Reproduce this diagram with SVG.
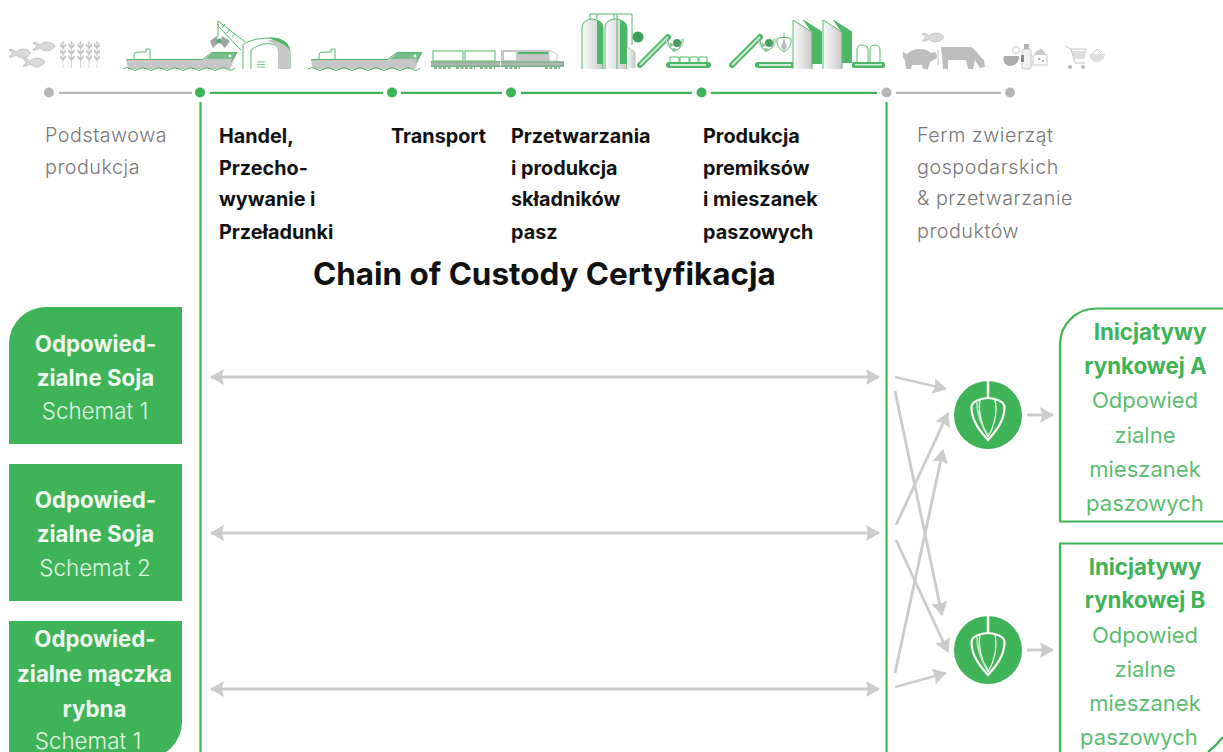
<svg xmlns="http://www.w3.org/2000/svg" width="1223" height="752" viewBox="0 0 1223 752">
<style>
text{font-family:"Inter","Open Sans","Liberation Sans",sans-serif}
.h{font-size:19.800px;font-weight:700;fill:#111}
.g{font-size:19.700px;font-weight:300;fill:#777;letter-spacing:.55px}
.t{font-size:31.400px;font-weight:700;fill:#111}
.lb{font-size:22.300px;font-weight:700;fill:#eef8ef;text-anchor:middle}
.lr{font-size:22.400px;font-weight:300;fill:#e2f4e5;text-anchor:middle}
.rb{font-size:22.300px;font-weight:700;fill:#3fb357;text-anchor:middle}
.rr{font-size:22px;font-weight:400;fill:#5cbd72;text-anchor:middle}
.ar{fill:none;stroke:#cbcbcb;stroke-width:2.800}
.ln{stroke-width:2.200;fill:none}
.gl{stroke:#b9b9b9}
.gn{stroke:#3fb357}
.dg{fill:#b5b5b5}
.dn{fill:#3fb357}
.ic{fill:none;stroke:#54b96c;stroke-width:1}
.icg{fill:none;stroke:#c4c4c4;stroke-width:1}
.fl{fill:#dedede}
.fn{fill:#4cb866}
.pale{fill:url(#paleGrad)}
.belt{fill:#4cb866}
.beltc{fill:#d6eadb}
</style>
<defs>
<linearGradient id="paleGrad" x1="0" x2="1" y1="0" y2="0"><stop offset="0" stop-color="#fafafa"/><stop offset="1" stop-color="#c9c9c9"/></linearGradient>
<marker id="ah" viewBox="0 0 14 18" refX="13" refY="9" markerUnits="userSpaceOnUse" markerWidth="14" markerHeight="18" orient="auto-start-reverse"><path d="M0 1L14 9L0 17L2 9Z" fill="#cbcbcb"/></marker>
<g id="whisk">
<path d="M0-34V-17" stroke="#fff" stroke-width="2.500" fill="none"/>
<path d="M0-17C-8-17-16.500-13-16.500-8C-16.500 6-8 16 0 25C8 16 16.500 6 16.500-8C16.500-13 8-17 0-17Z" fill="none" stroke="#fff" stroke-width="2.200"/>
<path d="M-8-15C-10-3-6 12 0 22M7-15C10-3 6 12 0 22" fill="none" stroke="#fff" stroke-width="1.200"/>
<path d="M-11-13C-11 2-5 13 0 20" fill="none" stroke="#bfe6c8" stroke-width="1.800"/>
</g>
<g id="ship">
<path d="M126 60H203L212 53H237L230 69H128Z" fill="#c6c6c6"/>
<path d="M203 59.500H126M203 59L212 52.500H237L231 62" class="ic"/>
<path d="M212 53H237L233 59H205Z" class="fn" opacity=".65"/>
<circle cx="230" cy="56" r="1.500" fill="#fff"/>
<path d="M134 59V55Q134 52 138 52H146V49H150V59" class="ic"/>
<path d="M123 69Q127 66 131 69T139 69T147 69T155 69T163 69T171 69T179 69T187 69T195 69T203 69T211 69T219 69T227 69T235 68" class="ic"/>
</g>
<g id="bowl">
<path d="M-8-8A8.500 9 0 1 0 8-8" class="icg"/>
<path d="M-7-7C-7 1-3 4 0 4C3 4 7 1 7-7" class="ic"/>
<circle cx="2" cy="-3" r="4" fill="#4a9d63"/><circle cx="-4" cy="-1" r="2" fill="#8cc79c"/><circle cx="-1" cy="4" r="2" fill="#8cc79c"/>
</g>
<g id="fish"><path d="M-11-3L-7 0L-11 4L-8 4L-4 2C0 6 7 6 11 0C7-5 0-5-4-1L-8-4Z" fill="#d9d9d9" stroke="#bbb" stroke-width=".8"/></g>
<g id="wheat"><path d="M0-14V13" stroke="#d5d5d5" fill="none"/><path d="M0-9L-3-12V-9L0-6L3-9V-12ZM0-3L-3-6V-3L0 0L3-3V-6ZM0 3L-3 0V3L0 6L3 3V0Z" fill="#c4c4c4"/><path d="M0-14L-1.500-11H1.500Z" fill="#c4c4c4"/></g>
</defs>
<rect width="1223" height="752" fill="#fff"/>

<g id="top-icons">
<use href="#fish" x="20" y="53"/><use href="#fish" x="44" y="46"/><use href="#fish" x="34" y="62"/>
<use href="#wheat" x="63" y="55"/><use href="#wheat" x="71.500" y="55"/><use href="#wheat" x="80.500" y="55"/><use href="#wheat" x="89" y="55"/><use href="#wheat" x="97" y="55"/>
<use href="#ship"/>
<path d="M218 21L245 42M218 26L241 50M218 21V26M222 28L225 24M227 33L230 29M232 37L235 33M218 24V37" class="ic"/>
<path d="M217 36L210 41L213 48L218 43ZM222 36L230 41L225 48L220 43Z" fill="#a3a3a3"/><circle cx="219" cy="41" r="2.500" fill="#4cb866"/>
<path d="M244 44C252 39 262 38 272 38C282 38 289 43 290 51V69" class="ic"/>
<path d="M243 69V44M251 69V50C258 44 268 43 272 44C278 45 279 49 279 54V69" class="ic"/>
<path d="M278 69V54C278 46 274 42 266 41C276 38 288 40 290 52V69Z" fill="#c6c6c6"/>
<path d="M268 38C280 37 288 42 290 50C286 45 278 41 268 38Z" class="fn"/>
<path d="M257 62H265M257 64.500H265M257 67H265" stroke="#7fca92" fill="none"/>
<use href="#ship" x="185"/>
<rect x="433" y="51" width="30" height="10" fill="#fff" class="ic"/><rect x="465" y="51" width="30" height="10" fill="#fff" class="ic"/>
<rect x="431" y="61" width="69" height="6" fill="#b5b5b5"/><rect x="501" y="61" width="63" height="6" fill="#b5b5b5"/>
<path d="M431 62H500M501 62H564M431 66H564" class="ic"/>
<rect x="501" y="50" width="48" height="11" fill="#c6c6c6"/><rect x="504" y="52" width="12" height="8" fill="#fff"/><path d="M518 52H548V54H518Z" class="fn"/>
<path d="M549 50L557 54V61H549Z" fill="#fff" class="icg"/>
<path d="M434 68H452M456 68H475M480 68H495M505 68H520M545 68H560" stroke="#7db98d" stroke-width="2.200" stroke-dasharray="3 1.500" fill="none"/>
<path d="M582 69V28Q582 20 592 19Q603 20 603 28V69Z" class="pale"/><path d="M597 20Q603 22 603 28V64H597Z" class="fn"/>
<path d="M605 69V28Q605 20 615 19Q627 20 627 28V69Z" class="pale"/><path d="M620 20Q627 22 627 28V64H620Z" class="fn"/>
<path d="M582 69V28Q582 20 592 19Q603 20 603 28V69M605 69V28Q605 20 615 19Q627 20 627 28V69M590 19V14H632V45M614 19V14M597 14V19M617 14V69" class="ic"/>
<path d="M627 47L635 52V68H627Z" class="pale"/><path d="M627 47L635 52V68" class="icg"/>
<circle cx="638" cy="37" r="5.500" fill="#3d9d5b"/>
<path d="M640 65L668 37" stroke="#4cb866" stroke-width="6" stroke-linecap="round" fill="none"/><path d="M640 65L668 37" stroke="#cfe8d6" stroke-width="2.200" fill="none"/>
<use href="#bowl" x="675" y="46"/>
<path d="M670 62V57H679V62M680 62V57H689V62M690 62V57H698V62M699 62V57H707V62" class="ic"/>
<rect x="666" y="62" width="45" height="6" rx="3" class="belt"/><rect x="670" y="64" width="36" height="2" class="beltc"/>
<path d="M732 65L760 37" stroke="#4cb866" stroke-width="6" stroke-linecap="round" fill="none"/><path d="M732 65L760 37" stroke="#cfe8d6" stroke-width="2.200" fill="none"/>
<use href="#bowl" x="767" y="46"/>
<path d="M784 33V38M777 39C776 46 780 49 784 52C788 49 792 46 791 39C788 37 780 37 777 39Z" class="ic"/><path d="M784 38L781 47L784 51L787 47Z" fill="#bbb"/>
<rect x="755" y="62" width="40" height="6" rx="3" class="belt"/><rect x="759" y="64" width="32" height="2" class="beltc"/>
<path d="M803 20L822 32V64H812V33Z" class="fn"/><path d="M803 20L822 32" class="ic"/>
<path d="M793 69V20L812 32V69Z" class="pale"/><path d="M793 69V20L812 32V69" class="ic"/>
<path d="M833 20L852 32V63H842V33Z" class="fn"/><path d="M833 20L852 32" class="ic"/>
<path d="M823 69V20L842 32V69Z" class="pale"/><path d="M823 69V20L842 32V69" class="ic"/>
<rect x="852" y="62" width="33" height="6" rx="2" class="belt"/><rect x="855" y="64" width="27" height="1.500" class="beltc"/>
<path d="M857 62V50Q857 45 862 45Q868 45 868 50V62M870 62V50Q870 45 875 45Q880 45 880 50V62" class="ic"/>
<use href="#fish" x="933" y="37"/>
<path d="M903 52L907 54C913 48 925 47 931 53L936 52L937 58L930 62L928 69H923L922 65H912L911 69H906L905 60Q902 57 903 52Z" fill="#bdbdbd"/>
<path d="M941 47H971C976 50 980 57 984 60L985 67L980 68L975 60L973 69H968L966 60H948L948 69H943L942 55Z" fill="#bdbdbd"/>
<path d="M938 50V65" class="icg"/>
<path d="M1004 56H1019Q1019 66 1009 66Q1002 64 1004 56Z" fill="#adadad"/><circle cx="1016" cy="50" r="3.500" class="icg"/>
<rect x="1022" y="49" width="9" height="20" rx="2" fill="#f1f1f1" stroke="#c4c4c4"/><rect x="1024" y="44" width="5" height="5" fill="#b5b5b5"/><rect x="1021" y="55" width="3" height="7" fill="#888"/>
<path d="M1033 56L1041 49L1047 56V65H1033Z" fill="#fff" stroke="#c4c4c4"/><path d="M1036 51L1041 49L1047 55H1035Z" fill="#c9c9c9"/><circle cx="1039" cy="59" r="1" fill="#999"/><circle cx="1043" cy="61" r="1" fill="#999"/>
<path d="M1065 46L1071 49L1075 63H1085M1071 49H1086L1084 58H1073" class="icg"/><path d="M1072 51H1086L1084 58H1074Z" class="fl"/>
<circle cx="1070" cy="67" r="2" fill="#bbb"/><circle cx="1083" cy="67" r="2" fill="#bbb"/>
<path d="M1089 54H1105C1104 60 1101 62 1097 62C1093 62 1090 60 1089 54Z" class="fl"/><path d="M1092 54L1097 49L1102 54" class="icg"/>
</g>

<g id="connectors">
<path class="ln gl" d="M59 92.800H192M896 92.800H1001"/>
<path class="ln gn" d="M210 92.800H383M401 92.800H502M521 92.800H692M711 92.800H877"/>
<path class="ar" marker-start="url(#ah)" marker-end="url(#ah)" d="M211 377H879"/>
<path class="ar" marker-start="url(#ah)" marker-end="url(#ah)" d="M211 533H879"/>
<path class="ar" marker-start="url(#ah)" marker-end="url(#ah)" d="M211 689H879"/>
<path class="ar" marker-end="url(#ah)" d="M895 377L946 389"/>
<path class="ar" marker-end="url(#ah)" d="M895 391L942 615"/>
<path class="ar" marker-end="url(#ah)" d="M896 525L948 413"/>
<path class="ar" marker-end="url(#ah)" d="M896 540L948 652"/>
<path class="ar" marker-end="url(#ah)" d="M895 673L943 450"/>
<path class="ar" marker-end="url(#ah)" d="M895 687L946 673"/>
<path class="ar" marker-end="url(#ah)" d="M1027 415H1053"/>
<path class="ar" marker-end="url(#ah)" d="M1027 650H1053"/>
</g>

<g id="timeline-nodes">
<circle cx="49" cy="92.500" r="5" class="dg"/>
<circle cx="200" cy="92.500" r="5" class="dn"/>
<circle cx="392" cy="92.500" r="5" class="dn"/>
<circle cx="511" cy="92.500" r="5" class="dn"/>
<circle cx="701.500" cy="92.500" r="5" class="dn"/>
<circle cx="886.500" cy="92.500" r="5" class="dg"/>
<circle cx="1010" cy="92.500" r="5" class="dg"/>
</g>

<g id="custody-frame">
<path class="ln gn" d="M200.500 102V752M886.500 102V752"/>
</g>

<g id="stage-primary"><text class="g" x="45" y="142">Podstawowa</text><text class="g" x="45" y="174">produkcja</text></g>
<g id="stage-trade"><text class="h" x="219" y="143">Handel,</text><text class="h" x="219" y="175">Przecho-</text><text class="h" x="219" y="206">wywanie i</text><text class="h" x="219" y="239">Przeładunki</text></g>
<g id="stage-transport"><text class="h" x="391" y="143">Transport</text></g>
<g id="stage-processing"><text class="h" x="511" y="143">Przetwarzania</text><text class="h" x="511" y="175">i produkcja</text><text class="h" x="511" y="206">składników</text><text class="h" x="511" y="239">pasz</text></g>
<g id="stage-premix"><text class="h" x="703" y="143">Produkcja</text><text class="h" x="703" y="175">premiksów</text><text class="h" x="703" y="206">i mieszanek</text><text class="h" x="703" y="239">paszowych</text></g>
<g id="stage-farm"><text class="g" x="917" y="142">Ferm zwierząt</text><text class="g" x="917" y="174">gospodarskich</text><text class="g" x="917" y="205">&amp; przetwarzanie</text><text class="g" x="917" y="238">produktów</text></g>
<g id="title"><text class="t" x="313" y="285">Chain of Custody Certyfikacja</text></g>

<g id="scheme-soja-1">
<path d="M9 444V344A37 37 0 0 1 46 307H182V444Z" class="dn"/>
<text class="lb" x="95.500" y="352">Odpowied-</text><text class="lb" x="95.500" y="386">zialne Soja</text><text class="lr" x="95" y="419">Schemat 1</text>
</g>
<g id="scheme-soja-2">
<rect x="9" y="464" width="173" height="137" class="dn"/>
<text class="lb" x="95.500" y="508">Odpowied-</text><text class="lb" x="95.500" y="542">zialne Soja</text><text class="lr" x="95" y="576">Schemat 2</text>
</g>
<g id="scheme-fishmeal">
<path d="M9 621H182V722A36 36 0 0 1 146 758H9Z" class="dn"/>
<text class="lb" x="95" y="647">Odpowied-</text><text class="lb" x="94.500" y="682">zialne mączka</text><text class="lb" x="94.500" y="717">rybna</text><text class="lr" x="88" y="749">Schemat 1</text>
</g>

<g id="mixer-a"><circle cx="988" cy="415" r="34" class="dn"/><use href="#whisk" x="988" y="415"/></g>
<g id="mixer-b"><circle cx="988" cy="650" r="34" class="dn"/><use href="#whisk" x="988" y="650"/></g>

<g id="initiative-a">
<path class="ln gn" d="M1223 308.500H1096A36 36 0 0 0 1060 344.500V521.500H1223"/>
<text class="rb" x="1150" y="340">Inicjatywy</text><text class="rb" x="1145.500" y="374">rynkowej A</text><text class="rr" x="1145" y="408">Odpowied</text><text class="rr" x="1145" y="443">zialne</text><text class="rr" x="1145" y="477">mieszanek</text><text class="rr" x="1145" y="511">paszowych</text>
</g>
<g id="initiative-b">
<path class="ln gn" d="M1223 543.500H1060V752M1223 737Q1216 746 1208 752"/>
<text class="rb" x="1145" y="575">Inicjatywy</text><text class="rb" x="1145" y="608">rynkowej B</text><text class="rr" x="1145" y="643">Odpowied</text><text class="rr" x="1145" y="677">zialne</text><text class="rr" x="1145" y="711">mieszanek</text><text class="rr" x="1139" y="745">paszowych</text>
</g>
</svg>
